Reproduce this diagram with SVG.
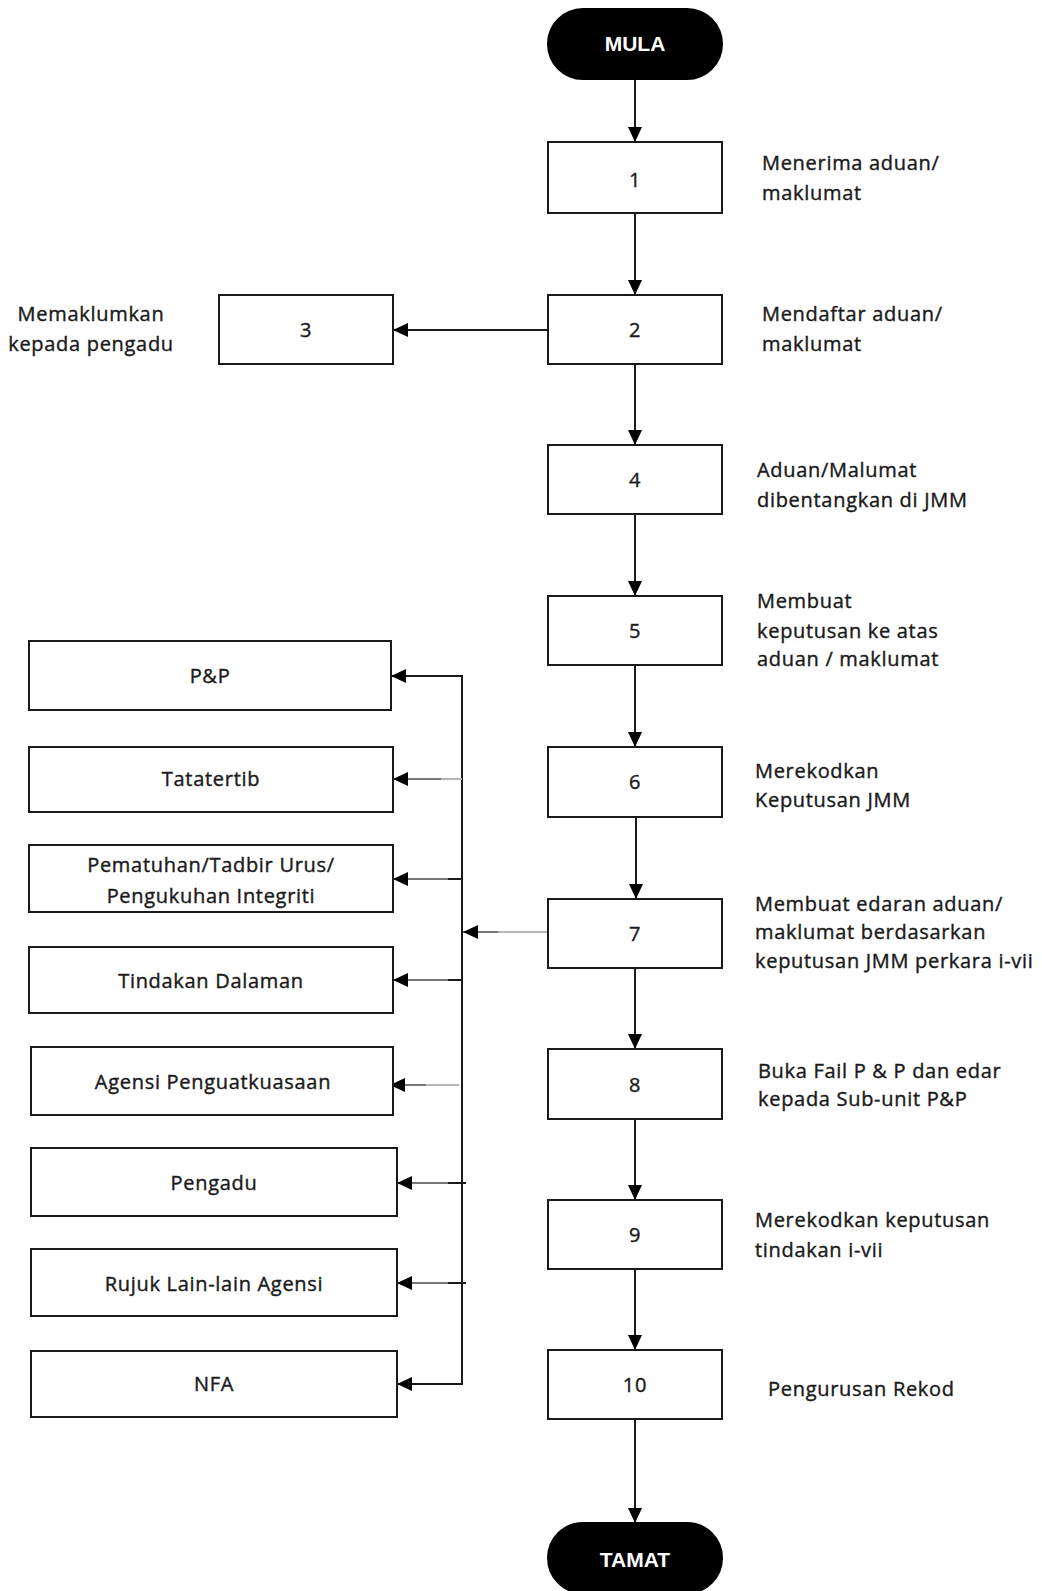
<svg xmlns="http://www.w3.org/2000/svg" width="1042" height="1591" viewBox="0 0 1042 1591">
<defs>
<marker id="ah" markerUnits="userSpaceOnUse" markerWidth="15" markerHeight="14" refX="15" refY="7" orient="auto">
<path d="M0,0 L15,7 L0,14 Z" fill="#000"/>
</marker>
<style>
.box{fill:#fff;stroke:#1a1a1a;stroke-width:2}
.term{fill:#000;stroke:#000;stroke-width:2}
.t{font-family:"Open Sans","Liberation Sans",sans-serif;font-size:20px;letter-spacing:0.7px;fill:#1a1a1a;stroke:#1a1a1a;stroke-width:0.4px}
.c{text-anchor:middle}
.tt{font-family:"Liberation Sans",Arial,sans-serif;font-size:21px;font-weight:bold;fill:#fff;text-anchor:middle}
.ln{stroke:#1a1a1a;stroke-width:2;fill:none}
.ga{stroke:#777;stroke-width:2;fill:none}
.gb{stroke:#b5b5b5;stroke-width:2;fill:none}
</style>
</defs>
<rect width="1042" height="1591" fill="#fff"/>

<g id="connectors">
<line class="ln" x1="635" y1="79" x2="635" y2="142" marker-end="url(#ah)"/>
<line class="ln" x1="635" y1="213" x2="635" y2="295" marker-end="url(#ah)"/>
<line class="ln" x1="548" y1="330" x2="393" y2="330" marker-end="url(#ah)"/>
<line class="ln" x1="635" y1="364" x2="635" y2="445" marker-end="url(#ah)"/>
<line class="ln" x1="635" y1="514" x2="635" y2="596" marker-end="url(#ah)"/>
<line class="ln" x1="635" y1="665" x2="635" y2="747" marker-end="url(#ah)"/>
<line class="ln" x1="636" y1="817" x2="636" y2="899" marker-end="url(#ah)"/>
<line class="ln" x1="635" y1="968" x2="635" y2="1049" marker-end="url(#ah)"/>
<line class="ln" x1="635" y1="1119" x2="635" y2="1200" marker-end="url(#ah)"/>
<line class="ln" x1="635" y1="1269" x2="635" y2="1350" marker-end="url(#ah)"/>
<line class="ln" x1="635" y1="1419" x2="635" y2="1523" marker-end="url(#ah)"/>
<!-- 7 to bus -->
<line class="gb" x1="548" y1="932" x2="497" y2="932"/>
<line class="ga" x1="498" y1="932" x2="463" y2="932" marker-end="url(#ah)"/>
<!-- bus -->
<line class="ln" x1="462" y1="675" x2="462" y2="1385"/>
<line class="ln" x1="463" y1="676" x2="391" y2="676" marker-end="url(#ah)"/>
<line class="gb" x1="462" y1="779" x2="440" y2="779"/>
<line class="ga" x1="441" y1="779" x2="393" y2="779" marker-end="url(#ah)"/>
<line class="ln" x1="462" y1="879" x2="447" y2="879"/>
<line class="ga" x1="448" y1="879" x2="393" y2="879" marker-end="url(#ah)"/>
<line class="ln" x1="462" y1="980" x2="447" y2="980"/>
<line class="ga" x1="448" y1="980" x2="393" y2="980" marker-end="url(#ah)"/>
<line class="gb" x1="459" y1="1085" x2="425" y2="1085"/>
<line class="ga" x1="426" y1="1085" x2="390" y2="1085" marker-end="url(#ah)"/>
<line class="ln" x1="466" y1="1183" x2="447" y2="1183"/>
<line class="ga" x1="448" y1="1183" x2="397" y2="1183" marker-end="url(#ah)"/>
<line class="ln" x1="466" y1="1283" x2="447" y2="1283"/>
<line class="ga" x1="448" y1="1283" x2="397" y2="1283" marker-end="url(#ah)"/>
<line class="ln" x1="463" y1="1384" x2="397" y2="1384" marker-end="url(#ah)"/>
</g>

<g id="mula"><rect class="term" x="548" y="9" width="174" height="70" rx="35"/><text class="tt" x="635" y="51">MULA</text></g>

<g id="n1"><rect class="box" x="548" y="142" width="174" height="71"/><text class="t c" x="635" y="187">1</text>
<text class="t" x="762" y="170">Menerima aduan/</text><text class="t" x="762" y="200">maklumat</text></g>

<g id="n2"><rect class="box" x="548" y="295" width="174" height="69"/><text class="t c" x="635" y="337">2</text>
<text class="t" x="762" y="321">Mendaftar aduan/</text><text class="t" x="762" y="351">maklumat</text></g>

<g id="n3"><rect class="box" x="219" y="295" width="174" height="69"/><text class="t c" x="306" y="337">3</text>
<text class="t c" x="91" y="321">Memaklumkan</text><text class="t c" x="91" y="351">kepada pengadu</text></g>

<g id="n4"><rect class="box" x="548" y="445" width="174" height="69"/><text class="t c" x="635" y="487">4</text>
<text class="t" x="757" y="477">Aduan/Malumat</text><text class="t" x="757" y="507">dibentangkan di JMM</text></g>

<g id="n5"><rect class="box" x="548" y="596" width="174" height="69"/><text class="t c" x="635" y="638">5</text>
<text class="t" x="757" y="608">Membuat</text><text class="t" x="757" y="638">keputusan ke atas</text><text class="t" x="757" y="666">aduan / maklumat</text></g>

<g id="n6"><rect class="box" x="548" y="747" width="174" height="70"/><text class="t c" x="635" y="789">6</text>
<text class="t" x="755" y="778">Merekodkan</text><text class="t" x="755" y="807">Keputusan JMM</text></g>

<g id="n7"><rect class="box" x="548" y="899" width="174" height="69"/><text class="t c" x="635" y="941">7</text>
<text class="t" x="755" y="911">Membuat edaran aduan/</text><text class="t" x="755" y="939">maklumat berdasarkan</text><text class="t" x="755" y="968">keputusan JMM perkara i-vii</text></g>

<g id="n8"><rect class="box" x="548" y="1049" width="174" height="70"/><text class="t c" x="635" y="1092">8</text>
<text class="t" x="758" y="1078">Buka Fail P &amp; P dan edar</text><text class="t" x="758" y="1106">kepada Sub-unit P&amp;P</text></g>

<g id="n9"><rect class="box" x="548" y="1200" width="174" height="69"/><text class="t c" x="635" y="1242">9</text>
<text class="t" x="755" y="1227">Merekodkan keputusan</text><text class="t" x="755" y="1257">tindakan i-vii</text></g>

<g id="n10"><rect class="box" x="548" y="1350" width="174" height="69"/><text class="t c" x="635" y="1392">10</text>
<text class="t" x="768" y="1396">Pengurusan Rekod</text></g>

<g id="tamat"><rect class="term" x="548" y="1523" width="174" height="70" rx="35"/><text class="tt" x="635" y="1567">TAMAT</text></g>

<g id="pp"><rect class="box" x="29" y="641" width="362" height="69"/><text class="t c" x="210" y="683">P&amp;P</text></g>
<g id="tatatertib"><rect class="box" x="29" y="747" width="364" height="65"/><text class="t c" x="211" y="786">Tatatertib</text></g>
<g id="pematuhan"><rect class="box" x="29" y="845" width="364" height="67"/><text class="t c" x="211" y="872">Pematuhan/Tadbir Urus/</text><text class="t c" x="211" y="903">Pengukuhan Integriti</text></g>
<g id="tindakan"><rect class="box" x="29" y="947" width="364" height="66"/><text class="t c" x="211" y="988">Tindakan Dalaman</text></g>
<g id="agensi"><rect class="box" x="31" y="1047" width="362" height="68"/><text class="t c" x="213" y="1089">Agensi Penguatkuasaan</text></g>
<g id="pengadu"><rect class="box" x="31" y="1148" width="366" height="68"/><text class="t c" x="214" y="1190">Pengadu</text></g>
<g id="rujuk"><rect class="box" x="31" y="1249" width="366" height="67"/><text class="t c" x="214" y="1291">Rujuk Lain-lain Agensi</text></g>
<g id="nfa"><rect class="box" x="31" y="1351" width="366" height="66"/><text class="t c" x="214" y="1391">NFA</text></g>
</svg>
